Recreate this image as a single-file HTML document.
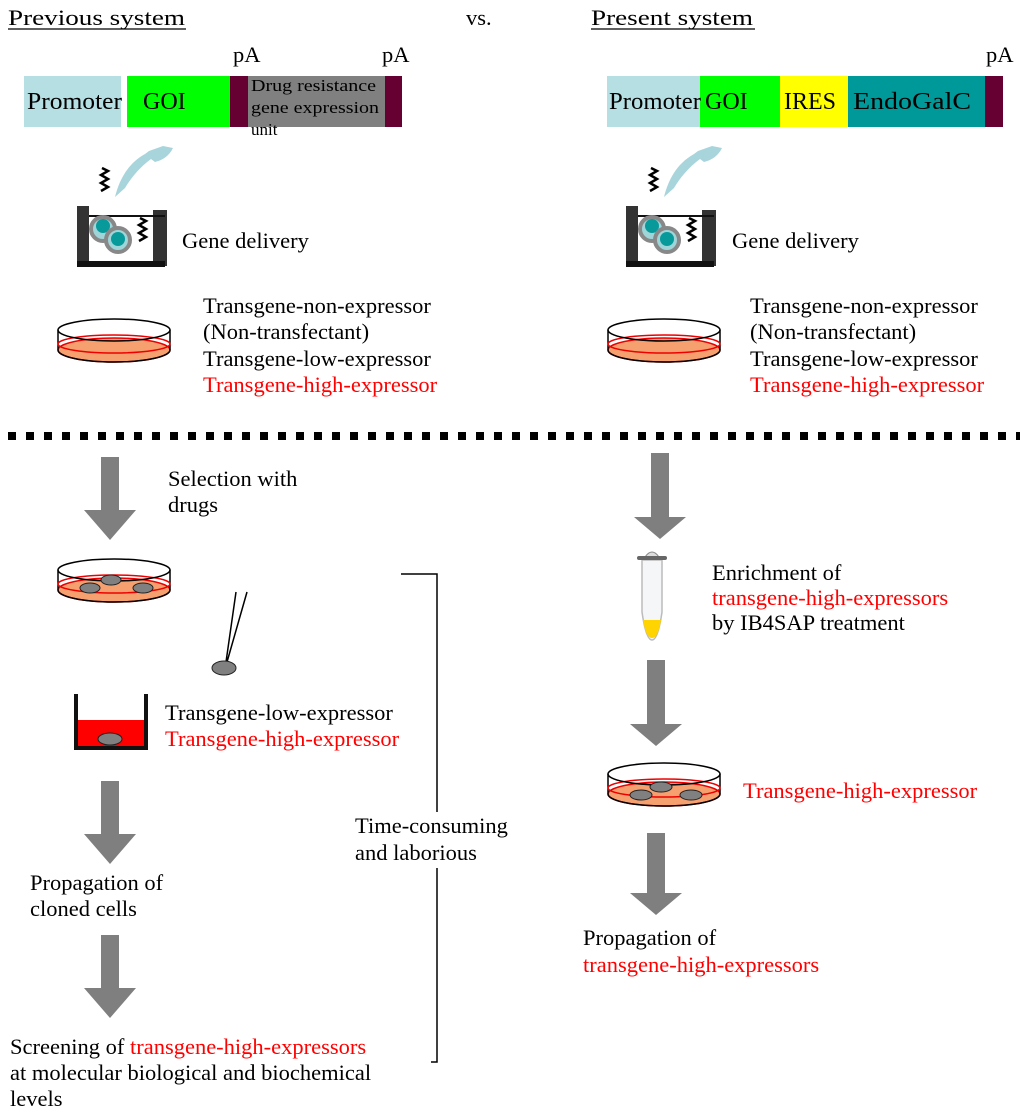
<!DOCTYPE html>
<html><head><meta charset="utf-8"><style>
html,body{margin:0;padding:0;background:#fff}
svg{display:block}
text{font-family:"Liberation Serif",serif;font-size:22.5px;fill:#000}
.r{fill:#ff0000}
.b{font-size:24px}
</style></head><body>
<svg width="1024" height="1116" viewBox="0 0 1024 1116" xmlns="http://www.w3.org/2000/svg">
<defs>
<g id="dish">
<ellipse cx="56" cy="34" rx="56" ry="12" fill="#f6a070" stroke="#e00" stroke-width="1.5"/>
<path d="M0 14 V34 M112 14 V34" stroke="#000" stroke-width="1.5"/>
<ellipse cx="56" cy="28" rx="56" ry="9" fill="none" stroke="#e00" stroke-width="1.5"/>
<ellipse cx="56" cy="14" rx="56" ry="11" fill="none" stroke="#000" stroke-width="1.5"/>
<path d="M0 34 A56 12 0 0 0 112 34" fill="none" stroke="#000" stroke-width="1.5"/>
</g>
<g id="flask">
<rect x="0" y="0" width="12" height="60" fill="#333"/>
<rect x="76" y="4" width="14" height="56" fill="#333"/>
<rect x="0" y="55" width="88" height="6" fill="#111"/>
<line x1="12" y1="10" x2="88" y2="10" stroke="#111" stroke-width="2"/>
<circle cx="26" cy="23" r="12" fill="#9fd4d8" stroke="#888" stroke-width="4"/>
<circle cx="26" cy="20" r="7" fill="#089a9a"/>
<circle cx="41" cy="34" r="12" fill="#9fd4d8" stroke="#888" stroke-width="4"/>
<circle cx="41" cy="33" r="7" fill="#089a9a"/>
<path d="M63 12 l6 3 -7 4 7 4 -7 4 7 4 -7 4" fill="none" stroke="#000" stroke-width="2.5"/>
<path d="M25 -38 l6 3 -7 4 7 4 -7 4 7 4 -7 4" fill="none" stroke="#000" stroke-width="2.5"/>
<path d="M38 -9 C42 -25 50 -42 68 -52 L72 -55 L86 -60 L96 -58 C92 -50 86 -46 78 -44 L74 -47 C62 -38 54 -28 48 -18 Z" fill="#a8d4dc"/>
</g>
</defs>

<!-- headers -->
<text x="8" y="25" textLength="177" lengthAdjust="spacingAndGlyphs">Previous system</text>
<line x1="8" y1="29" x2="186" y2="29" stroke="#000" stroke-width="1.2"/>
<text x="466" y="25">vs.</text>
<text x="591" y="25" textLength="162" lengthAdjust="spacingAndGlyphs">Present system</text>
<line x1="591" y1="29" x2="755" y2="29" stroke="#000" stroke-width="1.2"/>
<text x="233" y="62">pA</text>
<text x="382" y="62">pA</text>
<text x="986" y="62">pA</text>

<!-- left construct -->
<rect x="24" y="76" width="97" height="51" fill="#b5dfe3"/>
<rect x="127" y="76" width="103" height="51" fill="#00ff00"/>
<rect x="230" y="76" width="18" height="51" fill="#660033"/>
<rect x="248" y="76" width="137" height="51" fill="#808080"/>
<rect x="385" y="76" width="17" height="51" fill="#660033"/>
<text x="27" y="109" class="b" textLength="95" lengthAdjust="spacingAndGlyphs">Promoter</text>
<text x="143" y="109" class="b">GOI</text>
<text x="251" y="91" style="font-size:17px" textLength="125" lengthAdjust="spacingAndGlyphs">Drug resistance</text>
<text x="251" y="113" style="font-size:17px" textLength="128" lengthAdjust="spacingAndGlyphs">gene expression</text>
<text x="251" y="135" style="font-size:17px">unit</text>

<!-- right construct -->
<rect x="607" y="76" width="93" height="51" fill="#b5dfe3"/>
<rect x="700" y="76" width="80" height="51" fill="#00ff00"/>
<rect x="780" y="76" width="68" height="51" fill="#ffff00"/>
<rect x="848" y="76" width="137" height="51" fill="#009999"/>
<rect x="985" y="76" width="18" height="51" fill="#660033"/>
<text x="609" y="109" class="b" textLength="92" lengthAdjust="spacingAndGlyphs">Promoter</text>
<text x="705" y="109" class="b">GOI</text>
<text x="784" y="109" class="b">IRES</text>
<text x="853" y="109" class="b" textLength="118" lengthAdjust="spacingAndGlyphs">EndoGalC</text>

<!-- flasks -->
<use href="#flask" x="77" y="206"/>
<text x="182" y="248">Gene delivery</text>
<use href="#flask" x="626" y="206"/>
<text x="732" y="248">Gene delivery</text>

<!-- dishes -->
<use href="#dish" x="58" y="316"/>
<use href="#dish" x="608" y="316"/>
<text x="203" y="313">Transgene-non-expressor</text>
<text x="203" y="339">(Non-transfectant)</text>
<text x="203" y="366">Transgene-low-expressor</text>
<text x="203" y="392" class="r">Transgene-high-expressor</text>
<text x="750" y="313">Transgene-non-expressor</text>
<text x="750" y="339">(Non-transfectant)</text>
<text x="750" y="366">Transgene-low-expressor</text>
<text x="750" y="392" class="r">Transgene-high-expressor</text>

<!-- dotted divider -->
<line x1="8" y1="436" x2="1020" y2="436" stroke="#000" stroke-width="8" stroke-dasharray="8 10"/>

<!-- arrows -->
<g fill="#7f7f7f">
<path d="M101 457 h18 v53 h17 l-26 30 -26 -30 h17z"/>
<path d="M101 781 h18 v53 h17 l-26 30 -26 -30 h17z"/>
<path d="M101 935 h18 v53 h17 l-26 30 -26 -30 h17z"/>
<path d="M651 453 h18 v64 h17 l-26 22 -26 -22 h17z"/>
<path d="M647 660 h18 v64 h17 l-26 22 -26 -22 h17z"/>
<path d="M647 833 h18 v60 h17 l-26 22 -26 -22 h17z"/>
</g>

<text x="168" y="486">Selection with</text>
<text x="168" y="512">drugs</text>

<use href="#dish" x="58" y="556"/>
<g fill="#808080" stroke="#222" stroke-width="1">
<ellipse cx="111" cy="580" rx="10" ry="5"/>
<ellipse cx="90" cy="588" rx="10" ry="5"/>
<ellipse cx="143" cy="588" rx="10" ry="5"/>
</g>
<path d="M236 592 L226 662 M247 592 L227 662" stroke="#000" stroke-width="1.5" fill="none"/>
<ellipse cx="224" cy="668" rx="12" ry="7" fill="#808080" stroke="#222"/>

<rect x="76" y="720" width="68" height="26" fill="#ff0000"/>
<path d="M76 694 V748 H146 V694" fill="none" stroke="#111" stroke-width="4"/>
<ellipse cx="110" cy="739" rx="12" ry="6" fill="#808080" stroke="#222"/>
<text x="165" y="720">Transgene-low-expressor</text>
<text x="165" y="746" class="r">Transgene-high-expressor</text>

<text x="30" y="890">Propagation of</text>
<text x="30" y="916">cloned cells</text>
<text x="10" y="1054">Screening of <tspan class="r">transgene-high-expressors</tspan></text>
<text x="10" y="1080">at molecular biological and biochemical</text>
<text x="10" y="1106">levels</text>

<path d="M401 574 H437 V1062 H431" fill="none" stroke="#000" stroke-width="1.5"/>
<rect x="345" y="812" width="175" height="56" fill="#fff"/>
<text x="355" y="833">Time-consuming</text>
<text x="355" y="860">and laborious</text>

<path d="M642 560 L642 612 Q646 640 652 640 Q658 640 662 612 L662 560Z" fill="#f4f6f8" stroke="#bbb" stroke-width="1.5"/>
<path d="M643 620 Q646 638 652 638 Q658 638 661 620Z" fill="#ffd400"/>
<path d="M645 557 Q652 547 659 557Z" fill="#ddd" stroke="#888"/>
<rect x="637" y="556" width="30" height="4" rx="2" fill="#666"/>
<text x="712" y="580">Enrichment of</text>
<text x="712" y="605" class="r">transgene-high-expressors</text>
<text x="712" y="630">by IB4SAP treatment</text>

<use href="#dish" x="608" y="760"/>
<g fill="#808080" stroke="#222" stroke-width="1">
<ellipse cx="661" cy="787" rx="11" ry="5"/>
<ellipse cx="641" cy="795" rx="11" ry="5"/>
<ellipse cx="691" cy="795" rx="11" ry="5"/>
</g>
<text x="743" y="798" class="r">Transgene-high-expressor</text>

<text x="583" y="945">Propagation of</text>
<text x="583" y="972" class="r">transgene-high-expressors</text>
</svg>
</body></html>
